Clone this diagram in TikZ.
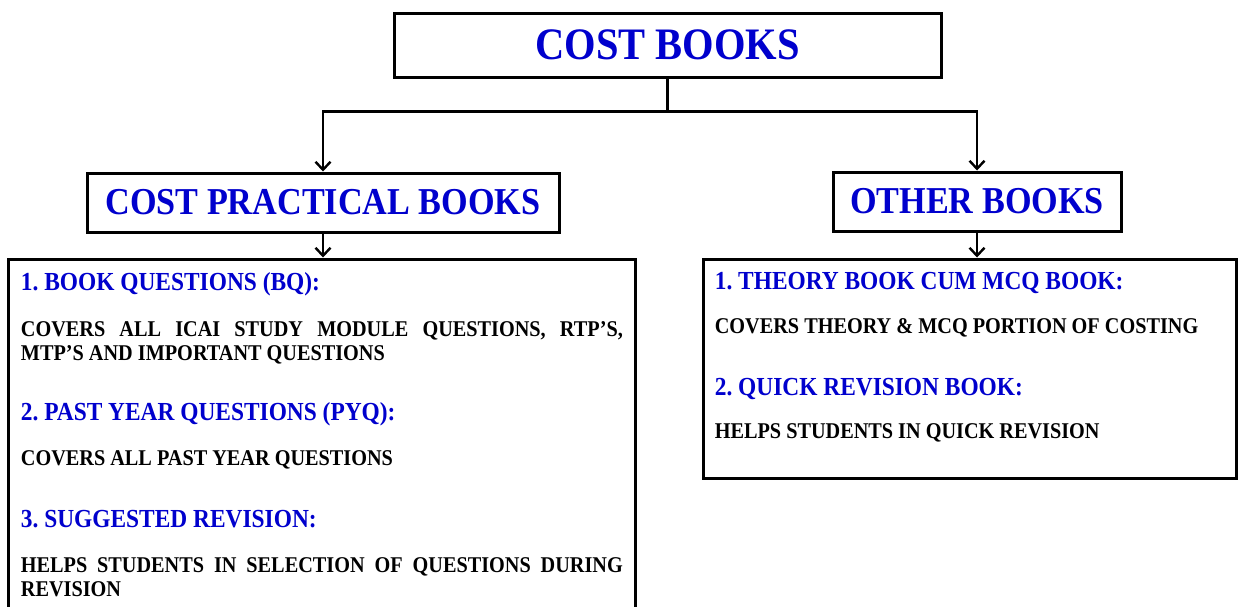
\documentclass[tikz,border=0pt]{standalone}
\usepackage{fontspec}
\setmainfont{Liberation Serif}[FakeStretch=0.9]
\usetikzlibrary{arrows.meta}
\definecolor{headblue}{RGB}{0,0,205}
\hyphenpenalty=10000
\exhyphenpenalty=10000
\tolerance=10000
\frenchspacing
\tikzset{
  frame/.style={draw=black, line width=3pt, inner sep=0pt, fill=white},
  link/.style={line width=2.6pt, -{Straight Barb[length=8pt,width=15pt,line width=2.4pt]}},
  toptitle/.style={font=\bfseries\fontsize{45}{50}\selectfont, text=headblue},
  midtitle/.style={font=\bfseries\fontsize{38}{43}\selectfont, text=headblue},
  subhead/.style={anchor=base west, inner sep=0pt, text=headblue,
    font=\bfseries\fontsize{26}{29}\selectfont},
  bodyline/.style={anchor=base west, inner sep=0pt, text=black,
    font=\bfseries\fontsize{22.5}{24}\selectfont},
  bodypara/.style={anchor=base west, inner sep=0pt, text=black,
    text width=602pt, align=justify,
    font=\bfseries\fontsize{22.5}{24.5}\selectfont},
}
\begin{document}
\begin{tikzpicture}[x=1pt,y=-1pt]
  \clip (0,0) rectangle (1238,606);
  \fill[white] (0,0) rectangle (1238,606);

  % headings
  \node[frame, toptitle, minimum width=547pt, minimum height=64pt] (root) at (667.5,45) {COST BOOKS};
  \node[frame, midtitle, minimum width=472pt, minimum height=59pt] (cpb) at (323,202.5) {COST PRACTICAL BOOKS};
  \node[frame, midtitle, minimum width=288pt, minimum height=59pt] (oth) at (977,201.5) {OTHER BOOKS};

  % content boxes
  \node[frame, minimum width=627pt, minimum height=361pt] (cpblist) at (322.4,439.5) {};
  \node[frame, minimum width=533pt, minimum height=219pt] (othlist) at (970,368.5) {};

  % connectors
  \draw[link] (root.south) -- ++(0,33) -| (cpb.north);
  \draw[link] (root.south) -- ++(0,33) -| (oth.north);
  \draw[link] (cpb.south) -- (cpb.south |- cpblist.north);
  \draw[link] (oth.south) -- (oth.south |- othlist.north);

  % practical books
  \node[subhead] (bqh) at (20.7,290) {1. BOOK QUESTIONS (BQ):};
  \node[bodypara] (bqt) at (20.7,336) {COVERS ALL ICAI STUDY MODULE QUESTIONS, RTP’S, MTP’S AND IMPORTANT QUESTIONS};
  \node[subhead] (pyqh) at (20.7,420) {2. PAST YEAR QUESTIONS (PYQ):};
  \node[bodyline] (pyqt) at (20.7,465) {COVERS ALL PAST YEAR QUESTIONS};
  \node[subhead] (srh) at (20.7,527) {3. SUGGESTED REVISION:};
  \node[bodypara] (srt) at (20.7,572) {HELPS STUDENTS IN SELECTION OF QUESTIONS DURING REVISION};

  % other books
  \node[subhead] (thh) at (714.6,289) {1. THEORY BOOK CUM MCQ BOOK:};
  \node[bodyline] (tht) at (714.6,333) {COVERS THEORY \& MCQ PORTION OF COSTING};
  \node[subhead] (qrh) at (714.6,395) {2. QUICK REVISION BOOK:};
  \node[bodyline] (qrt) at (714.6,438) {HELPS STUDENTS IN QUICK REVISION};
\end{tikzpicture}
\end{document}
